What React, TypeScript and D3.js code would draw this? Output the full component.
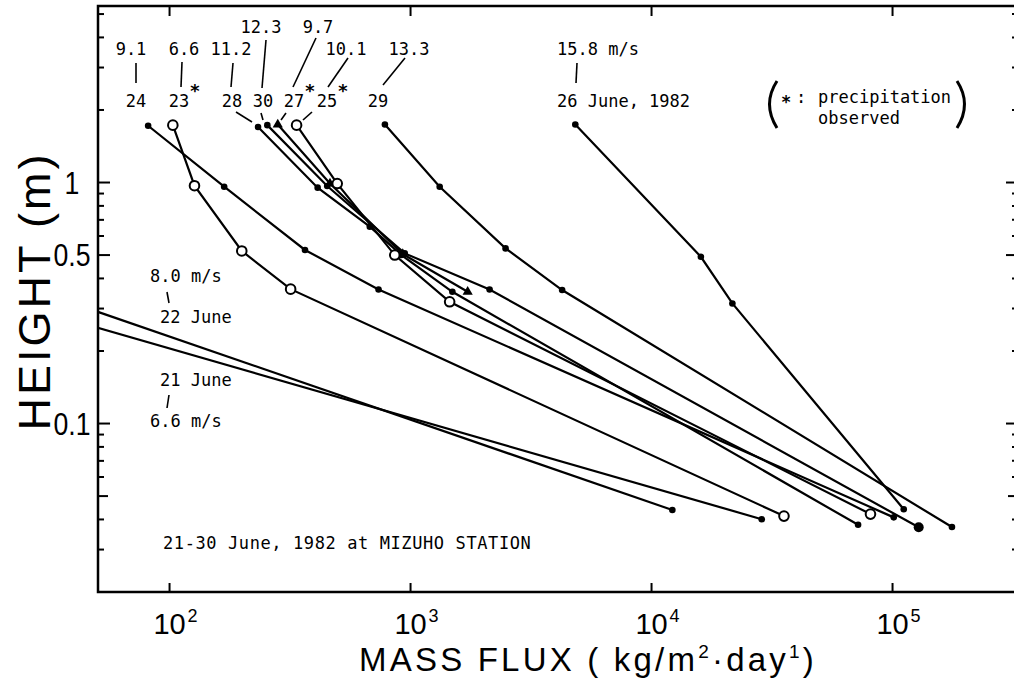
import React, { useEffect, useRef } from "react";
import * as d3 from "d3";

// wind speed at 10 m (m/s) and date of each run, June 1982
const runDates = ["24", "23", "28", "30", "27", "25", "29", "26", "22", "21"];
const windSpeeds = ["9.1", "6.6", "11.2", "12.3", "9.7", "10.1", "13.3", "15.8", "8.0", "6.6"];
const precipitation = [false, true, false, false, true, true, false, false, false, false];

// mass flux (kg/m2 day) against height (m)
const flux24 = [81.5, 168.5, 364.8, 736.6, 101150];
const height24 = [1.72, 0.961, 0.525, 0.36, 0.0408];
const flux23 = [103.2, 126.9, 199.4, 318, 35440];
const height23 = [1.73, 0.97, 0.52, 0.361, 0.0413];
const flux28 = [232.9, 411.6, 677.6, 917, 1491, 71950];
const height28 = [1.7, 0.952, 0.656, 0.5, 0.352, 0.038];
const flux30 = [254.5, 451, 946, 2128, 128400];
const height30 = [1.73, 0.967, 0.508, 0.36, 0.0371];
const flux27 = [281.2, 463, 928.5, 1726];
const height27 = [1.74, 0.99, 0.505, 0.352];
const flux25 = [336.6, 496.3, 860, 1453, 81000];
const height25 = [1.73, 0.99, 0.5, 0.32, 0.0421];
const flux29 = [782.7, 1321, 2479, 4256, 176400];
const height29 = [1.74, 0.961, 0.533, 0.358, 0.0372];
const flux26 = [4827, 16020, 21650, 111300];
const height26 = [1.74, 0.492, 0.315, 0.0441];
const flux22 = [27.1, 12200];
const height22 = [0.36, 0.0438];
const flux21 = [14.1, 28650];
const height21 = [0.36, 0.0401];

const xTickValues = [1e2, 1e3, 1e4, 1e5];
const xTickExponents = ["2", "3", "4", "5"];
const yLabelValues = [1, 0.5, 0.1];
const yLabelTexts = ["1", "0.5", "0.1"];

const W = 1014;
const H = 681;
const MONO = "'DejaVu Sans Mono', monospace";
const SANS = "'Liberation Sans', Arial, sans-serif";

const App = () => {
  const svgRef = useRef<SVGSVGElement>(null);

  useEffect(() => {
    const svg = d3.select(svgRef.current).attr("width", W).attr("height", H);
    svg.selectAll("*").remove();

    const x = d3.scaleLog().domain([50, 3.3e5]).range([97, 1017.5]);
    const y = d3.scaleLog().domain([0.02, 5.4]).range([592, 6]);

    const runs = [
      { flux: flux24, height: height24, marker: "dot" },
      { flux: flux23, height: height23, marker: "circle" },
      { flux: flux28, height: height28, marker: "dot" },
      { flux: flux30, height: height30, marker: "dot" },
      { flux: flux27, height: height27, marker: "triangle" },
      { flux: flux25, height: height25, marker: "circle" },
      { flux: flux29, height: height29, marker: "dot" },
      { flux: flux26, height: height26, marker: "dot" },
      { flux: flux22, height: height22, marker: "dot" },
      { flux: flux21, height: height21, marker: "dot" },
    ].map((r, i) => ({ ...r, date: runDates[i], pts: r.flux.map((f, j) => [f, r.height[j]] as [number, number]) }));

    svg.append("rect").attr("width", W).attr("height", H).attr("fill", "#fff");

    svg.append("defs").append("clipPath").attr("id", "plot-clip")
      .append("rect").attr("x", 99).attr("y", 7).attr("width", 920).attr("height", 584);

    // frame
    const frame = svg.append("g").attr("stroke", "#000").attr("stroke-width", 2.5).attr("fill", "none");
    frame.append("path").attr("d", `M${W},6 H98 V592 H${W}`);

    // y ticks, left axis and right axis (right axis sits just past the edge)
    const yTicks = y.ticks();
    const tickLen = (v: number) => (yLabelValues.includes(v) ? 12 : Math.abs(v - 0.05) < 1e-9 ? 10 : 6);
    frame.selectAll("line.yl").data(yTicks).enter().append("line")
      .attr("x1", 98).attr("x2", d => 98 + tickLen(d))
      .attr("y1", d => y(d)).attr("y2", d => y(d)).attr("stroke-width", 2);
    frame.selectAll("line.yr").data(yTicks).enter().append("line")
      .attr("x1", 1018).attr("x2", d => 1018 - tickLen(d))
      .attr("y1", d => y(d)).attr("y2", d => y(d)).attr("stroke-width", 2);

    // x ticks, bottom (up) and top (down)
    frame.selectAll("line.xb").data(xTickValues).enter().append("line")
      .attr("x1", d => x(d)).attr("x2", d => x(d)).attr("y1", 592).attr("y2", 583).attr("stroke-width", 2);
    frame.selectAll("line.xt").data(xTickValues).enter().append("line")
      .attr("x1", d => x(d)).attr("x2", d => x(d)).attr("y1", 6).attr("y2", 16).attr("stroke-width", 2);

    // tick labels
    const xl = svg.append("g").attr("font-family", SANS).attr("fill", "#000");
    xTickValues.forEach((v, i) => {
      xl.append("text").attr("x", x(v)).attr("y", 634).attr("text-anchor", "middle")
        .attr("font-size", 29).text("10");
      xl.append("text").attr("x", x(v) + 18).attr("y", 622).attr("font-size", 18).text(xTickExponents[i]);
    });
    yLabelValues.forEach((v, i) => {
      xl.append("text").attr("transform", `translate(72,${y(v) + 11}) scale(0.86,1)`)
        .attr("text-anchor", "middle").attr("font-size", 31).text(yLabelTexts[i]);
    });

    // axis titles
    const xt = xl.append("text").attr("x", 588).attr("y", 671).attr("text-anchor", "middle")
      .attr("font-size", 33).attr("letter-spacing", 3.2);
    xt.append("tspan").text("MASS  FLUX ( kg/m");
    xt.append("tspan").attr("font-size", 19).attr("dy", -13).text("2");
    xt.append("tspan").attr("dy", 13).text("·day");
    xt.append("tspan").attr("font-size", 19).attr("dy", -13).text("1");
    xt.append("tspan").attr("dy", 13).text(")");
    xl.append("text").attr("transform", "translate(50,291) rotate(-90)").attr("text-anchor", "middle")
      .attr("font-size", 45).attr("letter-spacing", 3).text("HEIGHT (m)");

    // profiles
    const line = d3.line<[number, number]>().x(d => x(d[0])).y(d => y(d[1]));
    const plot = svg.append("g").attr("clip-path", "url(#plot-clip)");
    plot.selectAll("path.run").data(runs).enter().append("path")
      .attr("d", d => line(d.pts))
      .attr("fill", "none").attr("stroke", "#000").attr("stroke-width", 2.2);

    runs.forEach(r => {
      const m = plot.selectAll(null).data(r.pts).enter();
      if (r.marker === "dot") {
        m.append("circle").attr("cx", d => x(d[0])).attr("cy", d => y(d[1]))
          .attr("r", d => (r.date === "30" && d[1] < 0.1 ? 5 : 3.3)).attr("fill", "#000");
      } else if (r.marker === "circle") {
        m.append("circle").attr("cx", d => x(d[0])).attr("cy", d => y(d[1])).attr("r", 4.8)
          .attr("fill", "#fff").attr("stroke", "#000").attr("stroke-width", 2);
      } else {
        m.append("path").attr("d", d3.symbol(d3.symbolTriangle, 45)())
          .attr("transform", d => `translate(${x(d[0])},${y(d[1])})`).attr("fill", "#000");
      }
    });

    // annotations
    const ann = svg.append("g").attr("font-family", MONO).attr("font-size", 17).attr("fill", "#000");
    const speedPos: [number, number][] = [[131, 55], [184, 55], [231, 55], [261, 33], [318, 33], [346, 55], [409, 55]];
    const datePos: [number, number][] = [[136, 107], [179, 107], [232, 107], [263, 107], [294, 107], [327, 107], [378, 107]];
    speedPos.forEach((p, i) => {
      ann.append("text").attr("x", p[0]).attr("y", p[1]).attr("text-anchor", "middle").text(windSpeeds[i]);
      ann.append("text").attr("x", datePos[i][0]).attr("y", datePos[i][1]).attr("text-anchor", "middle").text(runDates[i]);
      if (precipitation[i]) {
        ann.append("text").attr("x", datePos[i][0] + 16).attr("y", datePos[i][1] - 10)
          .attr("text-anchor", "middle").attr("font-size", 18).attr("font-weight", "bold").text("*");
      }
    });
    ann.append("text").attr("x", 557).attr("y", 55).text(`${windSpeeds[7]} m/s`);
    ann.append("text").attr("x", 557).attr("y", 107).text(`${runDates[7]} June, 1982`);
    ann.append("text").attr("x", 150).attr("y", 282).text(`${windSpeeds[8]} m/s`);
    ann.append("text").attr("x", 160).attr("y", 323).text(`${runDates[8]} June`);
    ann.append("text").attr("x", 160).attr("y", 386).text(`${runDates[9]} June`);
    ann.append("text").attr("x", 150).attr("y", 427).text(`${windSpeeds[9]} m/s`);
    ann.append("text").attr("x", 163).attr("y", 549).attr("letter-spacing", 0.6)
      .text("21-30 June, 1982 at MIZUHO STATION");

    const leaders: [number, number, number, number][] = [
      [136, 63, 136, 83], [182, 62, 181, 87], [233, 63, 231, 87], [266, 40, 262, 88],
      [316, 38, 293, 87], [348, 58, 328, 87], [405, 58, 383, 85], [577, 63, 576, 83],
      [236, 112, 252, 122], [261, 113, 263, 120], [286, 113, 281, 120], [312, 112, 303, 120],
      [167, 292, 169, 303], [169, 395, 167, 408],
    ];
    ann.selectAll("line").data(leaders).enter().append("line")
      .attr("x1", d => d[0]).attr("y1", d => d[1]).attr("x2", d => d[2]).attr("y2", d => d[3])
      .attr("stroke", "#000").attr("stroke-width", 1.6);

    // legend
    ann.append("path").attr("d", "M777,81 Q762,104 777,128").attr("fill", "none").attr("stroke", "#000").attr("stroke-width", 3);
    ann.append("path").attr("d", "M957,81 Q972,104 957,128").attr("fill", "none").attr("stroke", "#000").attr("stroke-width", 3);
    ann.append("text").attr("x", 781).attr("y", 108).attr("font-weight", "bold").text("*");
    ann.append("text").attr("x", 796).attr("y", 103).text(":");
    ann.append("text").attr("x", 818).attr("y", 103).text("precipitation");
    ann.append("text").attr("x", 818).attr("y", 124).text("observed");
  }, []);

  return <svg ref={svgRef} style={{ position: "absolute", left: 0, top: 0, display: "block" }} />;
};

export default App;
